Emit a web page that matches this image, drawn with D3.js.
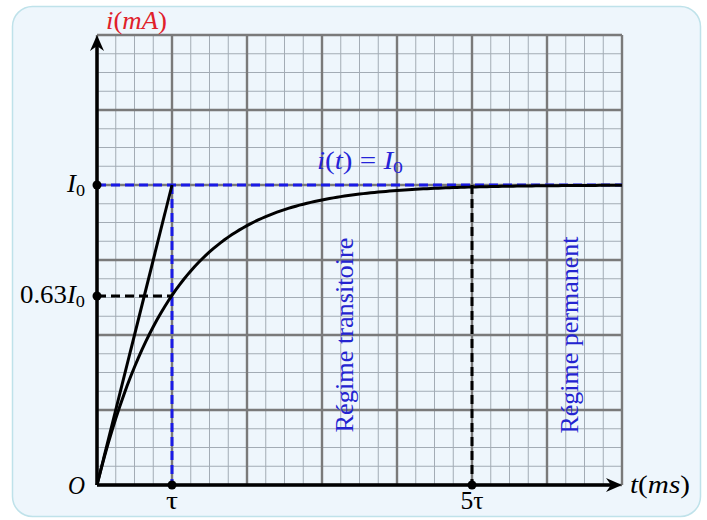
<!DOCTYPE html>
<html><head><meta charset="utf-8">
<script src="https://cdn.jsdelivr.net/npm/d3@7"></script>
<style>body{margin:0;background:#fff}svg{display:block}</style>
</head><body>
<svg id="c" width="707" height="520"></svg>
<script>
// ---- data ----
const xMax = 7;              // time axis in units of tau
const yMax = 6;              // current axis in grid units
const I0 = 4;                // asymptote in grid units
const tau = 1;
const curveT = d3.range(0, 7.0001, 0.05);          // sample times for i(t)
const curveI = curveT.map(t => I0 * (1 - Math.exp(-t / tau)));
const tangentT = [0, tau];
const tangentI = [0, I0];
const xTickLabels = [{v: tau, s: "τ", w: 12}, {v: 5 * tau, s: "5τ", w: 23}];
const level063 = 0.63 * I0;
const regimeLabels = [{v: 3.4, s: "Régime transitoire", len: 195}, {v: 6.4, s: "Régime permanent", len: 197}];

const svg = d3.select("#c");
const x = d3.scaleLinear().domain([0, xMax]).range([97, 622]);
const y = d3.scaleLinear().domain([0, yMax]).range([485, 35]);

// box
svg.append("rect").attr("x", 12.5).attr("y", 6.5).attr("width", 688).attr("height", 510)
  .attr("rx", 20).attr("fill", "#eef6fc").attr("stroke", "#bfe2ea").attr("stroke-width", 1.5);

// grid
const g = svg.append("g");
const minorX = d3.range(0, xMax + 0.001, 0.25), minorY = d3.range(0, yMax + 0.001, 0.25);
g.selectAll(".mx").data(minorX).join("line").attr("x1", d => x(d)).attr("x2", d => x(d))
  .attr("y1", y(0)).attr("y2", y(yMax)).attr("stroke", "#a3acb5").attr("stroke-width", 1);
g.selectAll(".my").data(minorY).join("line").attr("y1", d => y(d)).attr("y2", d => y(d))
  .attr("x1", x(0)).attr("x2", x(xMax)).attr("stroke", "#a3acb5").attr("stroke-width", 1);
g.selectAll(".Mx").data(d3.range(0, xMax + 1)).join("line").attr("x1", d => x(d)).attr("x2", d => x(d))
  .attr("y1", y(0)).attr("y2", y(yMax)).attr("stroke", "#7a7a7a").attr("stroke-width", 2.4);
g.selectAll(".My").data(d3.range(0, yMax + 1)).join("line").attr("y1", d => y(d)).attr("y2", d => y(d))
  .attr("x1", x(0)).attr("x2", x(xMax)).attr("stroke", "#7a7a7a").attr("stroke-width", 2.4);

// dashed guides
const dash = "9,5";
svg.append("line").attr("x1", x(0)).attr("x2", x(xMax)).attr("y1", y(I0)).attr("y2", y(I0))
  .attr("stroke", "#1a1ae6").attr("stroke-width", 3).attr("stroke-dasharray", dash);
svg.append("line").attr("x1", x(tau)).attr("x2", x(tau)).attr("y1", y(I0)).attr("y2", y(0))
  .attr("stroke", "#1a1ae6").attr("stroke-width", 3).attr("stroke-dasharray", dash);
svg.append("line").attr("x1", x(0)).attr("x2", x(tau)).attr("y1", y(level063)).attr("y2", y(level063))
  .attr("stroke", "#000").attr("stroke-width", 3).attr("stroke-dasharray", dash);
svg.append("line").attr("x1", x(5 * tau)).attr("x2", x(5 * tau)).attr("y1", y(I0)).attr("y2", y(0))
  .attr("stroke", "#000").attr("stroke-width", 3).attr("stroke-dasharray", dash);

// curve and tangent
const line = d3.line().x(d => x(d[0])).y(d => y(d[1]));
svg.append("path").datum(curveT.map((t, i) => [t, curveI[i]])).attr("d", line)
  .attr("fill", "none").attr("stroke", "#000").attr("stroke-width", 3);
svg.append("path").datum(tangentT.map((t, i) => [t, tangentI[i]])).attr("d", line)
  .attr("fill", "none").attr("stroke", "#000").attr("stroke-width", 3);

// axes
svg.append("line").attr("x1", x(0)).attr("x2", x(xMax) - 8).attr("y1", y(0)).attr("y2", y(0))
  .attr("stroke", "#000").attr("stroke-width", 3.5);
svg.append("line").attr("x1", x(0)).attr("x2", x(0)).attr("y1", y(0)).attr("y2", y(yMax) + 8)
  .attr("stroke", "#000").attr("stroke-width", 3.5);
const ax = x(xMax), ay = y(0);
svg.append("path").attr("d", `M${ax},${ay} L${ax - 16},${ay - 7} L${ax - 11},${ay} L${ax - 16},${ay + 7} Z`).attr("fill", "#000");
const bx = x(0), by = y(yMax);
svg.append("path").attr("d", `M${bx},${by} L${bx - 7},${by + 16} L${bx},${by + 11} L${bx + 7},${by + 16} Z`).attr("fill", "#000");

// dots
const dots = [[0, I0], [0, level063], [tau, 0], [5 * tau, 0]];
svg.selectAll(".dot").data(dots).join("circle").attr("cx", d => x(d[0])).attr("cy", d => y(d[1]))
  .attr("r", 4.5).attr("fill", "#000");

// text
const serif = "'Liberation Serif','DejaVu Serif',serif";
function txt(px, py, anchor, size, color, len) {
  const t = svg.append("text").attr("x", px).attr("y", py).attr("text-anchor", anchor)
    .attr("font-family", serif).attr("font-size", size).attr("fill", color);
  if (len) t.attr("textLength", len).attr("lengthAdjust", "spacingAndGlyphs");
  return t;
}
let t1 = txt(106, 29, "start", 25, "#e0202a", 61);
t1.append("tspan").attr("font-style", "italic").text("i");
t1.append("tspan").text("(");
t1.append("tspan").attr("font-style", "italic").text("mA");
t1.append("tspan").text(")");

let t2 = txt(67, y(I0) + 7, "start", 25, "#000", 18);
t2.append("tspan").attr("font-style", "italic").text("I");
t2.append("tspan").attr("font-size", 17).attr("dy", 4).text("0");

let t3 = txt(20, y(level063) + 7, "start", 25, "#000", 65);
t3.append("tspan").text("0.63");
t3.append("tspan").attr("font-style", "italic").text("I");
t3.append("tspan").attr("font-size", 17).attr("dy", 4).text("0");

txt(68, y(0) + 9, "start", 25, "#000", 17).attr("font-style", "italic").text("O");

xTickLabels.forEach(d => txt(x(d.v) - d.w / 2, y(0) + 24, "start", 25, "#000", d.w).text(d.s));

let t4 = txt(630, y(0) + 8, "start", 25, "#000", 60);
t4.append("tspan").attr("font-style", "italic").text("t");
t4.append("tspan").text("(");
t4.append("tspan").attr("font-style", "italic").text("ms");
t4.append("tspan").text(")");

let t5 = txt(317, y(I0) - 16, "start", 25, "#2424d8", 86);
t5.append("tspan").attr("font-style", "italic").text("i");
t5.append("tspan").text("(");
t5.append("tspan").attr("font-style", "italic").text("t");
t5.append("tspan").text(") = ");
t5.append("tspan").attr("font-style", "italic").text("I");
t5.append("tspan").attr("font-size", 17).attr("dy", 4).text("0");

regimeLabels.forEach(d => {
  svg.append("text").attr("transform", `translate(${x(d.v) + 1},${(y(0.7) + y(3.3)) / 2}) rotate(-90)`)
    .attr("text-anchor", "middle").attr("font-family", serif).attr("font-size", 25)
    .attr("textLength", d.len).attr("lengthAdjust", "spacingAndGlyphs")
    .attr("fill", "#2424d0").text(d.s);
});
</script>
</body></html>
